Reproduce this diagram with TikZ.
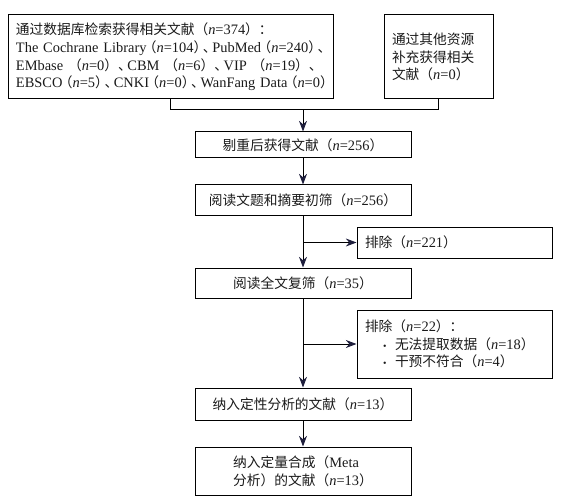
\documentclass[tikz,border=0pt]{standalone}
\usepackage{fontspec}
\setmainfont[Scale=1.05]{Liberation Serif}
\newfontfamily\cjk{Noto Sans CJK SC}
\usetikzlibrary{arrows.meta,positioning}
\definecolor{tipC}{HTML}{1E1E3C}
\definecolor{textC}{HTML}{1A1A1A}
\newcommand\zh[1]{{\cjk #1}}
\newcommand\nn{\textit{n}}
\newcommand\lp{\makebox[0.7em][r]{\zh{（}}}
\newcommand\rp{\makebox[0.65em][l]{\zh{）}}}
\newcommand\dun{\makebox[0.65em][l]{\zh{、}}}
\tikzset{
  stepbox/.style={rectangle, draw=black, line width=0.75pt, align=center, text=textC,
                  font=\fontsize{10.3}{13.3}\selectfont, inner sep=0pt, minimum width=162pt, minimum height=#1},
  srcbox/.style={rectangle, draw=black, line width=0.75pt, align=left, text=textC,
                 font=\fontsize{10.3}{13.3}\selectfont, inner xsep=6pt, inner ysep=0pt, minimum height=63pt},
  excbox/.style={rectangle, draw=black, line width=0.75pt, align=left, text=textC,
                 font=\fontsize{10.3}{13.3}\selectfont, inner xsep=6pt, inner ysep=0pt, text width=134.25pt, minimum height=#1},
  arr/.style={-{Stealth[length=8pt, width=6pt, color=tipC]}, line width=0.75pt, draw=black},
  lnk/.style={line width=0.75pt, draw=black},
}
\begin{document}
\begin{tikzpicture}[x=0.75pt, y=-0.75pt]
\useasboundingbox (0,0) rectangle (572,503);
\node[srcbox, text width=231.75pt] (db) at (170.5,57) {\mbox{\zh{通过数据库检索获得相关文献（}\nn=374\zh{）：}}\\
\mbox{The Cochrane Library\lp\nn=104\rp\dun PubMed\lp\nn=240\rp\dun}\\
\makebox[\linewidth][s]{EMbase \zh{（}\nn=0\zh{）}\dun CBM \zh{（}\nn=6\zh{）}\dun VIP \zh{（}\nn=19\zh{）}\dun}\\
\mbox{EBSCO\lp\nn=5\rp\dun CNKI\lp\nn=0\rp\dun WanFang Data\lp\nn=0\rp}};
\node[srcbox, text width=69.75pt] (other) at (438.5,57) {\zh{通过其他资源}\\\zh{补充获得相关}\\\zh{文献（}\nn=0\zh{）}};
\coordinate (join) at (303,110);
\node[stepbox=19.5pt] (dedup) at (303,145) {\zh{剔重后获得文献（}\nn=256\zh{）}};
\node[stepbox=22.5pt] (title) at (303,200) {\zh{阅读文题和摘要初筛（}\nn=256\zh{）}};
\node[excbox=23.25pt] (ex1) at (454.5,242.5) {\zh{排除（}\nn=221\zh{）}};
\node[stepbox=22.5pt] (full) at (303,283) {\zh{阅读全文复筛（}\nn=35\zh{）}};
\node[excbox=51pt] (ex2) at (454.5,344) {\zh{排除（}\nn=22\zh{）：}\\
\hspace*{13.5pt}\makebox[9pt][l]{\scriptsize\textbullet}\zh{无法提取数据（}\nn=18\zh{）}\\
\hspace*{13.5pt}\makebox[9pt][l]{\scriptsize\textbullet}\zh{干预不符合（}\nn=4\zh{）}};
\node[stepbox=24pt] (qual) at (303,404) {\zh{纳入定性分析的文献（}\nn=13\zh{）}};
\node[stepbox=36pt, align=left] (meta) at (303,471) {\zh{纳入定量合成（}Meta\\\zh{分析）的文献（}\nn=13\zh{）}};
\draw[lnk] (db.south) |- (join);
\draw[lnk] (other.south) |- (join);
\draw[arr] (join) -- (dedup.north);
\draw[arr] (dedup) -- (title);
\draw[arr] (title) -- (full);
\draw[arr] (title.south |- ex1.west) -- (ex1.west);
\draw[arr] (full) -- (qual);
\draw[arr] (full.south |- ex2.west) -- (ex2.west);
\draw[arr] (qual) -- (meta);
\end{tikzpicture}
\end{document}
